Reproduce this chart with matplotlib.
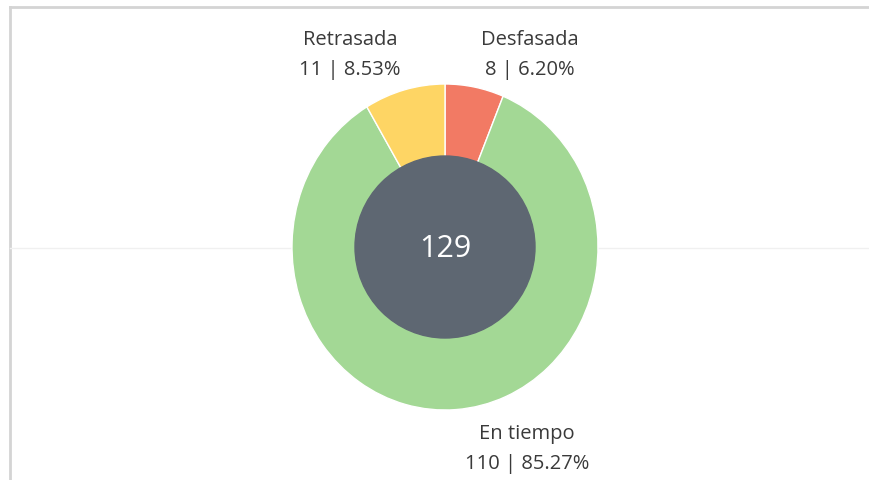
import matplotlib.pyplot as plt
from matplotlib.patches import Ellipse

categorias = ['Desfasada', 'En tiempo', 'Retrasada']
valores = [8, 110, 11]
colores = ['#f27a64', '#a3d895', '#fed564']
total = sum(valores)

plt.rcParams['font.family'] = ['Open Sans', 'DejaVu Sans']

fig = plt.figure(figsize=(8.7, 4.8), dpi=100)
ax = fig.add_axes([0, 0, 1, 1])

# pie drawn with radius 1, then the axes limits stretch it to the pixel size of the original
ax.pie(valores, colors=colores, startangle=90, counterclock=False, radius=1,
       wedgeprops=dict(edgecolor='white', linewidth=1))
ax.set_aspect('auto')

W, H = 870, 480
cx, cy = 445, 480 - 247   # centre in pixels (from bottom)
rx, ry = 153, 163         # outer radii in pixels
ax.set_xlim(-cx / rx, (W - cx) / rx)
ax.set_ylim(-cy / ry, (H - cy) / ry)

# dark centre
ax.add_patch(Ellipse((0, 0), 2 * 90 / rx, 2 * 91 / ry, color='#5e6772', zorder=3))
ax.text(0, -0.01, str(total), color='white', fontsize=22, ha='center', va='center', zorder=4)


def px(x, y):
    return (x - cx) / rx, (H - y - cy) / ry


# labels
pos = {'Retrasada': (350, 40, 70), 'Desfasada': (530, 40, 70), 'En tiempo': (527, 434, 464)}
for cat, v in zip(categorias, valores):
    x, y1, y2 = pos[cat]
    ax.text(*px(x, y1), cat, ha='center', va='center', fontsize=14.5, color='#3a3a3a')
    ax.text(*px(x, y2), f'{v} | {v / total * 100:.2f}%', ha='center', va='center',
            fontsize=14.5, color='#3a3a3a')

# frame lines
fx = lambda x: x / W
fy = lambda y: 1 - y / H
ax.plot([fx(10), fx(10)], [fy(7), 0], color='#d4d4d4', lw=2, transform=ax.transAxes, zorder=0)
ax.plot([fx(10), 1], [fy(7), fy(7)], color='#d4d4d4', lw=2, transform=ax.transAxes, zorder=0)
ax.plot([fx(10), 1], [fy(248), fy(248)], color='#f0f0f0', lw=1, transform=ax.transAxes, zorder=0)

ax.axis('off')
fig.savefig('out.png', dpi=100)
